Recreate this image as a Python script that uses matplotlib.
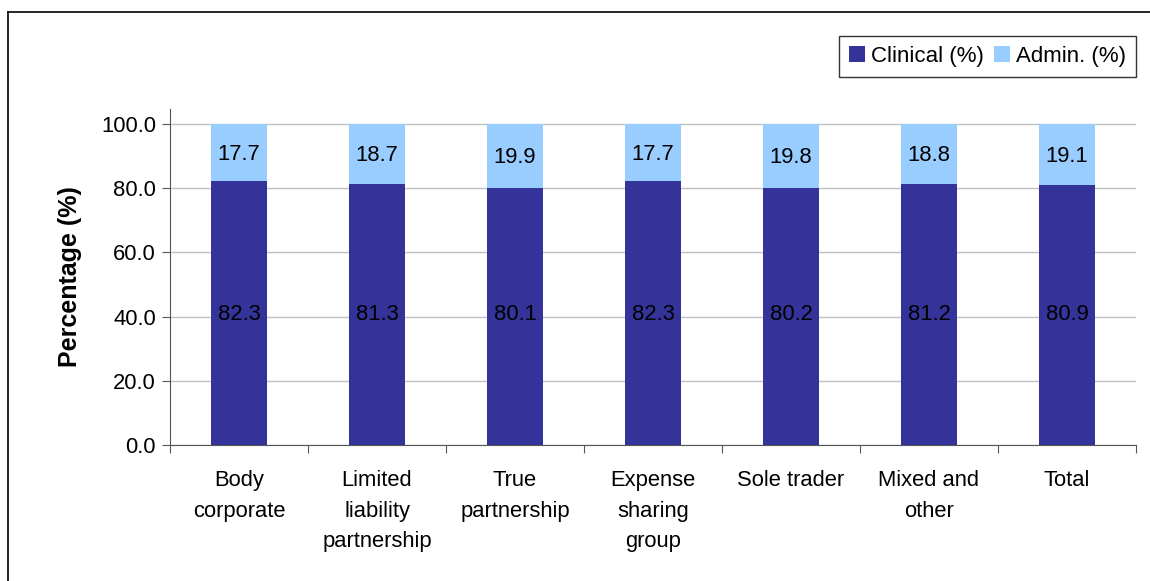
import numpy as np
import matplotlib.pyplot as plt
from matplotlib.lines import Line2D

plt.rcParams['font.family'] = ['Liberation Sans', 'DejaVu Sans']

categories = ["Body\ncorporate", "Limited\nliability\npartnership", "True\npartnership",
              "Expense\nsharing\ngroup", "Sole trader", "Mixed and\nother", "Total"]
clinical = [82.3, 81.3, 80.1, 82.3, 80.2, 81.2, 80.9]
admin = [17.7, 18.7, 19.9, 17.7, 19.8, 18.8, 19.1]

dark = '#333399'
light = '#99CCFF'
fs = 15.8

W, H = 1150, 581
fig = plt.figure(figsize=(W / 100, H / 100), dpi=100)

# outer chart frame (only the left and top edges fall inside the picture)
fig.lines.append(Line2D([8 / W, 8 / W], [-0.05, 1 - 12 / H], transform=fig.transFigure,
                        color='black', linewidth=1.2))
fig.lines.append(Line2D([8 / W, 1.05], [1 - 12 / H, 1 - 12 / H], transform=fig.transFigure,
                        color='black', linewidth=1.2))

ax = fig.add_axes([170 / W, 1 - 445 / H, (1136 - 170) / W, (445 - 109) / H])

x = np.arange(len(categories))
ax.bar(x, clinical, width=0.41, color=dark, label='Clinical (%)', zorder=2)
ax.bar(x, admin, width=0.41, bottom=clinical, color=light, label='Admin. (%)', zorder=2)

for i in range(len(categories)):
    ax.text(x[i], 40.8, f"{clinical[i]:.1f}", ha='center', va='center', fontsize=fs, zorder=3)
    ax.text(x[i], clinical[i] + admin[i] / 2 - 0.5, f"{admin[i]:.1f}", ha='center', va='center',
            fontsize=fs, zorder=3)

ax.set_xlim(-0.5, len(categories) - 0.5)
ax.set_ylim(0, 104.7)
ax.set_yticks(np.arange(0, 101, 20))
ax.set_yticklabels([f"{v:.1f}" for v in np.arange(0, 101, 20)], fontsize=fs)
ax.yaxis.grid(True, color='#c0c0c0', linewidth=1, zorder=0)
ax.set_axisbelow(True)

ax.set_xticks(np.arange(-0.5, len(categories) + 0.5, 1))
ax.set_xticklabels([])
ax.set_xticks(x, minor=True)
ax.set_xticklabels(categories, minor=True, fontsize=fs, linespacing=1.6)
ax.tick_params(axis='x', which='minor', length=0, pad=18)
ax.tick_params(axis='x', which='major', length=6, direction='out', color='#555555')
ax.tick_params(axis='y', length=6, direction='out', color='#555555', pad=4)

for s in ['top', 'right']:
    ax.spines[s].set_visible(False)
for s in ['left', 'bottom']:
    ax.spines[s].set_color('#555555')

ax.set_ylabel('Percentage (%)', fontsize=18, fontweight='bold', labelpad=14)

leg = fig.legend(loc='upper right', bbox_to_anchor=(1136 / W, 1 - 36 / H), ncol=2,
                 fontsize=16, frameon=True, fancybox=False, edgecolor='black',
                 handlelength=0.75, handleheight=0.75, handletextpad=0.25,
                 columnspacing=0.45, borderpad=0.45, borderaxespad=0)
leg.get_frame().set_linewidth(1)

fig.savefig('out.png', dpi=100)
